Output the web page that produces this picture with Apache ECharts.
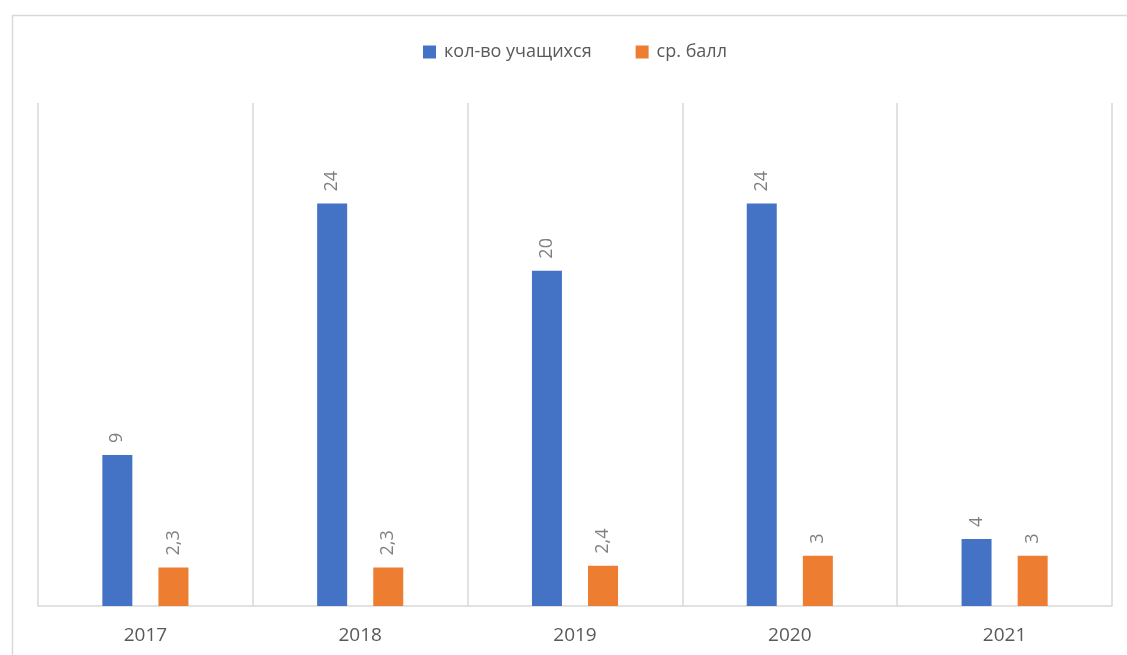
<!DOCTYPE html>
<html><head><meta charset="utf-8">
<script src="https://cdn.jsdelivr.net/npm/echarts@6/dist/echarts.min.js"></script>
<style>html,body{margin:0;padding:0;background:#fff}#c{width:1127px;height:655px}</style>
</head><body><div id="c"></div>
<script>
const categories = ['2017', '2018', '2019', '2020', '2021'];
const studentsCount = [9, 24, 20, 24, 4];
const avgScore = [2.3, 2.3, 2.4, 3, 3];
const seriesNames = ['кол-во учащихся', 'ср. балл'];

const chart = echarts.init(document.getElementById('c'));
const labelCfg = {
  show: true, position: 'top', rotate: 90, align: 'left', verticalAlign: 'middle',
  distance: 12, color: '#7f7f7f', fontSize: 18, fontFamily: 'Open Sans',
  formatter: p => String(p.value).replace('.', ',')
};
chart.setOption({
  animation: false,
  graphic: [{
    type: 'rect', left: 10, top: 13, silent: true,
    shape: { width: 1130, height: 660 },
    style: { fill: 'none', stroke: '#d9d9d9', lineWidth: 1.5 }
  }],
  legend: {
    top: 38, left: 418, itemWidth: 13, itemHeight: 13, itemGap: 44,
    icon: 'rect',
    textStyle: { color: '#595959', fontSize: 18, fontFamily: 'Open Sans', padding: [0, 0, 0, 3] },
    data: seriesNames
  },
  grid: { left: 38, right: 15, top: 103, bottom: 49 },
  xAxis: {
    type: 'category', data: categories,
    axisLine: { lineStyle: { color: '#d9d9d9', width: 1.5 } },
    axisTick: { show: false },
    axisLabel: { color: '#595959', fontSize: 19, margin: 20, fontFamily: 'Open Sans' },
    splitLine: { show: true, lineStyle: { color: '#d9d9d9', width: 1.5 } }
  },
  yAxis: { type: 'value', min: 0, max: 30, show: false, splitLine: { show: false } },
  series: [
    { name: seriesNames[0], type: 'bar', data: studentsCount, barWidth: 30, barGap: '87%',
      itemStyle: { color: '#4472c4' }, label: labelCfg },
    { name: seriesNames[1], type: 'bar', data: avgScore, barWidth: 30,
      itemStyle: { color: '#ed7d31' }, label: labelCfg }
  ]
});
</script></body></html>
